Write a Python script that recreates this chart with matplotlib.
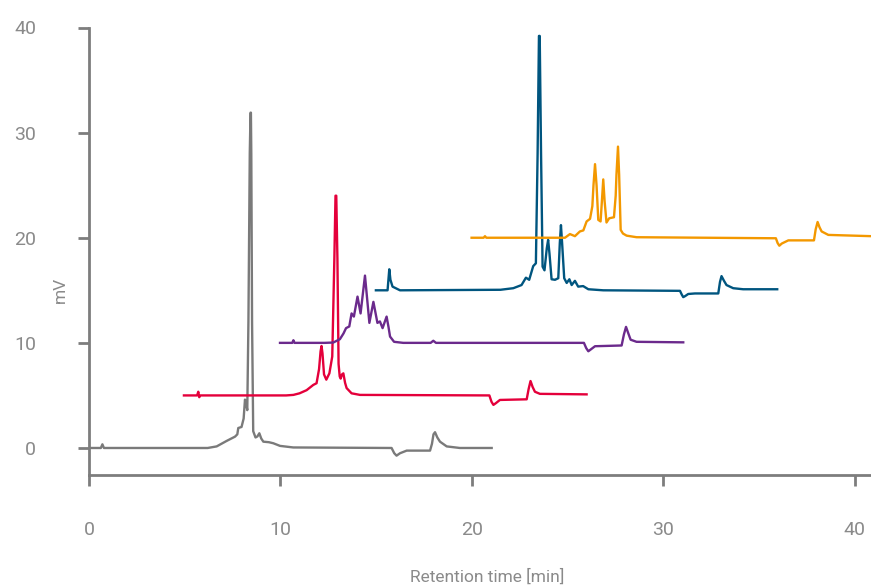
import matplotlib.pyplot as plt

# chromatogram traces: retention time [min], signal [mV]
gray_t = [0.0, 0.62, 0.7, 0.78, 6.2, 6.67, 7.19, 7.63, 7.75, 7.8, 7.97, 8.08, 8.15, 8.21, 8.27,
          8.33, 8.4, 8.44, 8.46, 8.48, 8.52, 8.58, 8.7, 8.8, 8.9, 9.0, 9.11, 9.4, 9.63, 9.98,
          10.67, 15.81, 15.95, 16.07, 16.25, 16.6, 17.82, 17.92, 18.0, 18.08, 18.2, 18.34,
          18.69, 19.38, 21.04]
gray_v = [0.0, 0.0, 0.35, 0.0, 0.0, 0.15, 0.67, 1.08, 1.3, 1.9, 2.0, 2.8, 4.6, 4.2, 3.6,
          12.0, 28.0, 31.9, 31.9, 28.0, 12.0, 1.6, 1.0, 1.1, 1.4, 0.9, 0.6, 0.55, 0.45, 0.2,
          0.05, 0.0, -0.5, -0.73, -0.5, -0.25, -0.25, 0.4, 1.3, 1.5, 1.0, 0.6,
          0.15, 0.0, 0.0]

red_t = [4.96, 5.65, 5.71, 5.76, 5.82, 10.3, 10.68, 11.0, 11.37, 11.72, 11.89, 12.02, 12.1,
         12.15, 12.2, 12.28, 12.4, 12.56, 12.71, 12.82, 12.88, 12.92, 12.98, 13.04, 13.1, 13.15,
         13.22, 13.29, 13.38, 13.46, 13.72, 14.16, 20.92, 21.03, 21.13, 21.25, 21.47, 22.87,
         22.97, 23.07, 23.18, 23.3, 23.56, 26.0]
red_v = [5.0, 5.0, 5.35, 4.83, 5.0, 5.0, 5.05, 5.2, 5.5, 6.0, 6.16, 7.5, 9.2,
         9.7, 9.0, 7.0, 6.5, 7.1, 8.7, 18.0, 24.0, 24.0, 18.0, 8.0, 6.8, 6.6,
         7.0, 7.1, 6.2, 5.7, 5.2, 5.05, 5.0, 4.4, 4.1, 4.25, 4.57, 4.63,
         5.6, 6.37, 5.8, 5.35, 5.15, 5.1]

purple_t = [9.98, 10.62, 10.68, 10.74, 12.3, 12.76, 13.11, 13.3, 13.43, 13.6, 13.72, 13.84, 14.03,
            14.19, 14.42, 14.65, 14.86, 15.07, 15.2, 15.34, 15.55, 15.65, 15.73, 15.94, 16.42,
            17.85, 17.99, 18.13, 25.86, 25.98, 26.09, 26.2, 26.44, 27.83, 27.95, 28.06, 28.18,
            28.3, 28.61, 31.05]
purple_v = [10.0, 10.0, 10.25, 10.0, 10.0, 10.03, 10.35, 10.9, 11.4, 11.56, 12.8, 12.5, 14.4,
            12.8, 16.4, 11.9, 13.9, 11.9, 12.04, 11.4, 12.5, 11.5, 10.6, 10.1, 10.0,
            10.0, 10.2, 10.0, 10.0, 9.5, 9.2, 9.35, 9.68, 9.75, 10.8, 11.52, 10.9,
            10.3, 10.1, 10.05]

blue_t = [14.99, 15.6, 15.69, 15.75, 15.86, 16.25, 21.5, 22.17, 22.6, 22.83, 23.0, 23.21, 23.35,
          23.44, 23.51, 23.55, 23.62, 23.7, 23.8, 23.92, 23.99, 24.06, 24.17, 24.35, 24.52,
          24.6, 24.66, 24.72, 24.83, 24.96, 25.1, 25.22, 25.39, 25.56, 25.82, 26.09, 26.87,
          30.88, 30.97, 31.05, 31.15, 31.31, 31.66, 32.88, 32.97, 33.05, 33.18, 33.31, 33.66,
          34.18, 35.96]
blue_v = [15.0, 15.0, 17.0, 16.0, 15.35, 15.0, 15.05, 15.2, 15.5, 16.2, 16.0, 17.3, 17.57,
          28.0, 39.2, 39.2, 28.0, 17.25, 16.9, 19.0, 19.8, 18.5, 16.05, 16.0, 16.15,
          19.5, 21.2, 19.5, 16.15, 15.7, 16.05, 15.5, 15.9, 15.35, 15.4, 15.1, 15.0,
          14.95, 14.6, 14.35, 14.45, 14.65, 14.7, 14.7, 15.8, 16.35, 15.9, 15.5, 15.2,
          15.1, 15.1]

orange_t = [19.99, 20.62, 20.69, 20.76, 24.87, 25.13, 25.39, 25.65, 25.83, 26.0, 26.18, 26.3,
            26.36, 26.44, 26.52, 26.61, 26.73, 26.8, 26.87, 26.94, 27.04, 27.18, 27.43, 27.52,
            27.56, 27.64, 27.7, 27.78, 27.9, 28.09, 28.61, 35.89, 35.98, 36.07, 36.2, 36.54,
            37.88, 37.97, 38.07, 38.17, 38.28, 38.63, 40.86]
orange_v = [20.0, 20.0, 20.15, 20.0, 20.0, 20.35, 20.15, 20.6, 20.7, 21.55, 21.8, 23.0,
            25.0, 27.0, 25.0, 21.7, 21.55, 23.5, 25.55, 23.5, 21.45, 21.85, 21.95, 24.0,
            26.0, 28.67, 26.0, 20.75, 20.4, 20.2, 20.05, 19.95, 19.5, 19.24, 19.45, 19.75,
            19.75, 20.8, 21.5, 21.0, 20.6, 20.27, 20.15]

traces = [(gray_t, gray_v, '#7a7a7a'),
          (red_t, red_v, '#e4003b'),
          (purple_t, purple_v, '#6b2a8c'),
          (blue_t, blue_v, '#00557f'),
          (orange_t, orange_v, '#f39800')]

x_ticks = [0, 10, 20, 30, 40]
y_ticks = [0, 10, 20, 30, 40]

plt.rcParams['font.family'] = ['Roboto', 'DejaVu Sans']
axis_col = '#7d7d7d'
text_col = '#8a8a8a'

fig = plt.figure(figsize=(8.71, 5.88), dpi=100)
ax = fig.add_axes([89 / 871, 113 / 588, 782 / 871, 447.5 / 588])

for t, v, c in traces:
    ax.plot(t, v, color=c, lw=1.7, solid_joinstyle='round')

ax.set_xlim(0, 40.86)
ax.set_ylim(-2.57, 40)

for side in ['top', 'right']:
    ax.spines[side].set_visible(False)
for side in ['left', 'bottom']:
    ax.spines[side].set_color(axis_col)
    ax.spines[side].set_linewidth(2)

ax.set_xticks(x_ticks)
ax.set_yticks(y_ticks)
ax.tick_params(axis='both', colors=axis_col, length=8, width=2, labelsize=14,
               labelcolor=text_col)
ax.tick_params(axis='x', pad=25)
ax.tick_params(axis='y', pad=30)

ax.text(0.509, -0.228, 'Retention time [min]', transform=ax.transAxes, ha='center', va='center',
        fontsize=12.5, color=text_col)
ax.text(-0.037, 0.413, 'mV', transform=ax.transAxes, ha='center', va='center', rotation=90,
        fontsize=12.5, color=text_col)

fig.savefig('out.png', dpi=100)
